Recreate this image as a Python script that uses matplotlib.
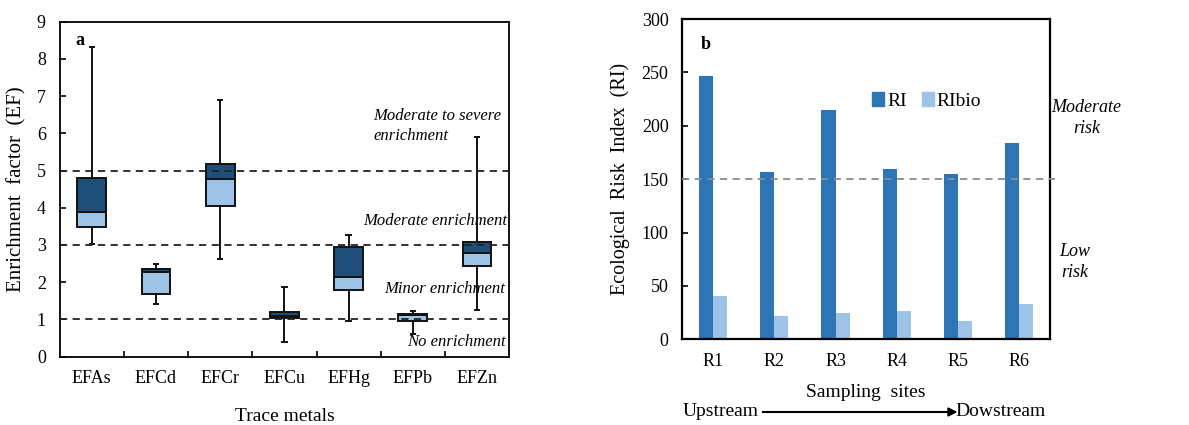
import numpy as np
import matplotlib.pyplot as plt
from matplotlib.patches import Patch

plt.rcParams['font.family'] = ['Liberation Serif', 'DejaVu Serif']

# ---- panel a: enrichment factors ----
metals = ["EFAs", "EFCd", "EFCr", "EFCu", "EFHg", "EFPb", "EFZn"]
ef_min = [3.03, 1.40, 2.63, 0.40, 0.95, 0.60, 1.24]
ef_q1  = [3.47, 1.69, 4.05, 1.05, 1.78, 0.95, 2.44]
ef_med = [3.89, 2.27, 4.76, 1.10, 2.15, 1.13, 2.79]
ef_q3  = [4.79, 2.35, 5.17, 1.19, 2.95, 1.15, 3.09]
ef_max = [8.31, 2.49, 6.90, 1.88, 3.27, 1.23, 5.89]
ef_levels = [1, 3, 5]

# ---- panel b: risk index ----
sites = ["R1", "R2", "R3", "R4", "R5", "R6"]
ri    = [246.5, 157.0, 214.5, 159.5, 155.0, 183.5]
ribio = [40.5, 21.5, 25.0, 26.5, 17.5, 33.0]
ri_threshold = 150

DARK = "#1F4E79"
LIGHT = "#9DC3E6"
RI_COL = "#2E75B6"
EDGE = "#111111"

fig = plt.figure(figsize=(11.89, 4.25), dpi=100)
ax1 = fig.add_axes([0.0502, 0.161, 0.378, 0.788])
ax2 = fig.add_axes([0.574, 0.2016, 0.309, 0.7534])

# ---------------- panel a ----------------
x = np.arange(len(metals))
ef_q1 = np.array(ef_q1); ef_med = np.array(ef_med); ef_q3 = np.array(ef_q3)
bw = 0.45
ax1.bar(x, ef_med - ef_q1, bottom=ef_q1, width=bw, color=LIGHT,
        edgecolor=EDGE, linewidth=1.4, zorder=3)
ax1.bar(x, ef_q3 - ef_med, bottom=ef_med, width=bw, color=DARK,
        edgecolor=EDGE, linewidth=1.4, zorder=3)
ax1.vlines(x, ef_min, ef_q1, color=EDGE, linewidth=1.4, zorder=4)
ax1.vlines(x, ef_q3, ef_max, color=EDGE, linewidth=1.4, zorder=4)
ax1.hlines(ef_min, x - 0.05, x + 0.05, color=EDGE, linewidth=1.4, zorder=4)
ax1.hlines(ef_max, x - 0.05, x + 0.05, color=EDGE, linewidth=1.4, zorder=4)
for lv in ef_levels:
    ax1.axhline(lv, color="#222222", linestyle=(0, (4, 3)), linewidth=1.3, zorder=5)

ax1.set_xlim(-0.5, 6.5)
ax1.set_ylim(0, 9)
ax1.set_yticks(range(0, 10))
ax1.set_xticks(x)
ax1.set_xticklabels(metals, fontsize=13)
ax1.set_xticks(np.arange(0.5, 6.5, 1), minor=True)
ax1.tick_params(axis="x", which="major", length=0, pad=10)
ax1.tick_params(axis="x", which="minor", direction="in", length=4, width=1.2)
ax1.tick_params(axis="y", direction="in", length=4, width=1.2, labelsize=13, pad=10)
ax1.set_ylabel("Enrichment  factor  (EF)", fontsize=15, labelpad=7)
ax1.set_xlabel("Trace metals", fontsize=14, labelpad=15)
for s in ax1.spines.values():
    s.set_linewidth(1.3)

ax1.text(-0.25, 8.5, "a", fontsize=13, fontweight="bold", va="center")
ax1.text(4.38, 6.2, "Moderate to severe\nenrichment", fontsize=12, style="italic",
         ha="left", va="center", linespacing=1.3, zorder=2)
ax1.text(6.47, 3.64, "Moderate enrichment", fontsize=12, style="italic",
         ha="right", va="center", zorder=2)
ax1.text(6.44, 1.81, "Minor enrichment", fontsize=12, style="italic",
         ha="right", va="center", zorder=2)
ax1.text(6.44, 0.40, "No enrichment", fontsize=12, style="italic",
         ha="right", va="center", zorder=2)

# ---------------- panel b ----------------
xs = np.arange(len(sites))
w = 0.23
ax2.bar(xs - w / 2, ri, width=w, color=RI_COL, zorder=2)
ax2.bar(xs + w / 2, ribio, width=w, color=LIGHT, zorder=2)
ax2.axhline(ri_threshold, xmin=0, xmax=1.015, color="#8C8C8C",
            linestyle=(0, (4, 3)), linewidth=1.3, clip_on=False, zorder=3)

ax2.set_xlim(-0.5, 5.5)
ax2.set_ylim(0, 300)
ax2.set_yticks(range(0, 301, 50))
ax2.set_xticks(xs)
ax2.set_xticklabels(sites, fontsize=13)
ax2.tick_params(axis="x", length=0, pad=10)
ax2.tick_params(axis="y", direction="in", length=4, width=1.2, labelsize=13, pad=10)
ax2.set_ylabel("Ecological  Risk  Index  (RI)", fontsize=14.5, labelpad=8)
ax2.set_xlabel("Sampling  sites", fontsize=14, labelpad=10)
for s in ax2.spines.values():
    s.set_linewidth(1.6)

ax2.text(-0.2, 276, "b", fontsize=13, fontweight="bold", va="center")
handles = [Patch(color=RI_COL, label="RI"), Patch(color=LIGHT, label="RIbio")]
ax2.legend(handles=handles, ncol=2, loc="center", bbox_to_anchor=(0.665, 0.745),
           frameon=False, fontsize=14, handlelength=0.6, handleheight=0.7,
           handletextpad=0.15, columnspacing=0.8)
ax2.text(1.10, 0.69, "Moderate\nrisk", transform=ax2.transAxes, fontsize=13,
         style="italic", ha="center", va="center", linespacing=1.3)
ax2.text(1.068, 0.242, "Low\nrisk", transform=ax2.transAxes, fontsize=13,
         style="italic", ha="center", va="center", linespacing=1.3)

# upstream -> downstream arrow
fig.text(683 / 1189, 1 - 412 / 425, "Upstream", fontsize=14, ha="left", va="center")
fig.text(955 / 1189, 1 - 412 / 425, "Dowstream", fontsize=14, ha="left", va="center")
fig.add_artist(plt.Line2D([763 / 1189, 950 / 1189], [1 - 412 / 425] * 2,
                          color="black", linewidth=1.5))
fig.patches.append(plt.Polygon([[948 / 1189, 1 - 408 / 425], [956 / 1189, 1 - 412 / 425],
                                [948 / 1189, 1 - 416 / 425]], closed=True,
                               color="black", transform=fig.transFigure))

fig.savefig("out.png", dpi=100)
